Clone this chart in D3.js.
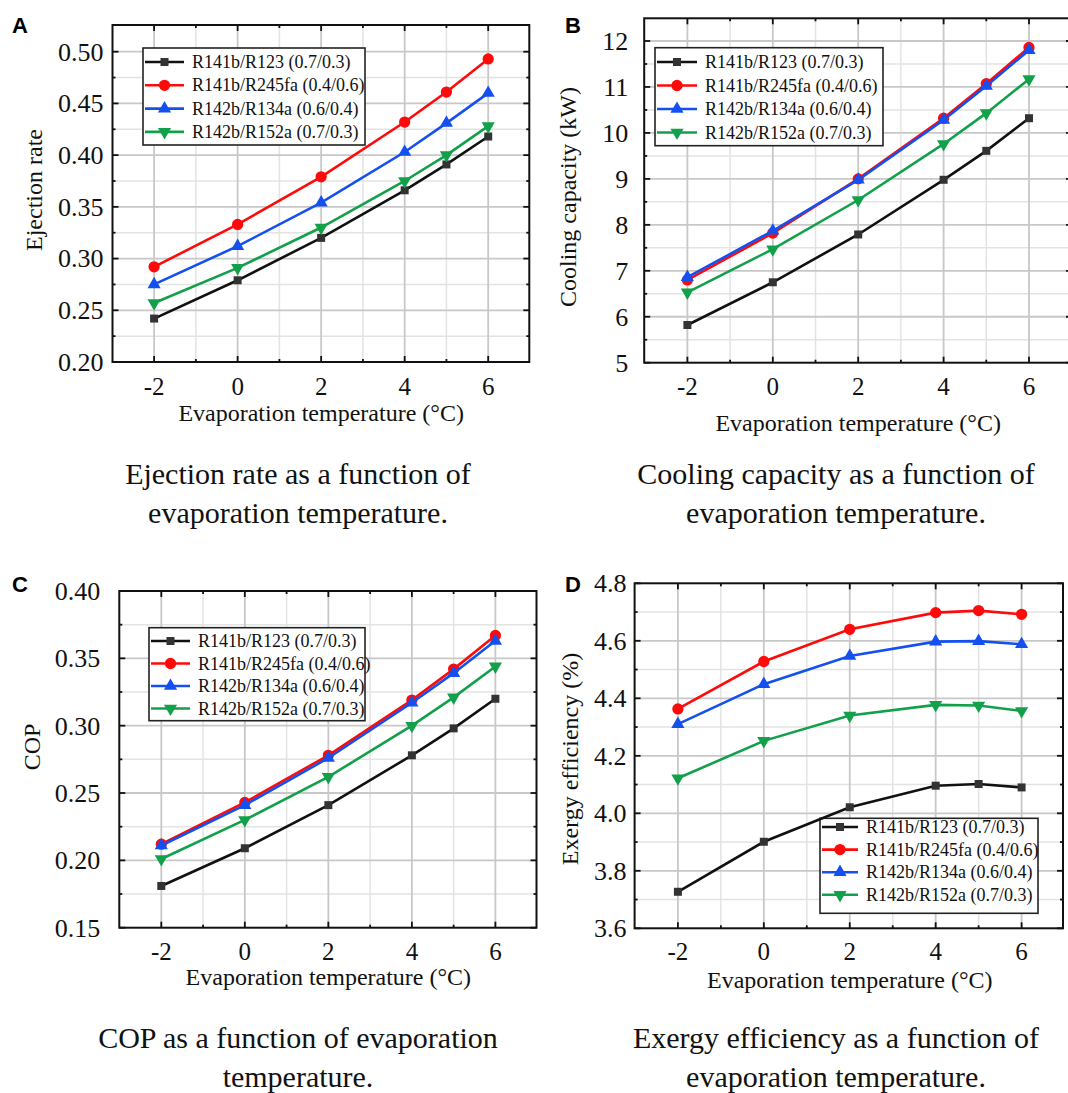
<!DOCTYPE html>
<html>
<head>
<meta charset="utf-8">
<script src="https://cdn.jsdelivr.net/npm/d3@7"></script>
<style>
  body { margin: 0; background: #fff; }
  svg { display: block; }
  .serif { font-family: "Liberation Serif", "Times New Roman", serif; fill: #111; }
</style>
</head>
<body>
<svg width="1068" height="1093"></svg>
<script>
// evaporation temperature (°C)
var temps = [-2, 0, 2, 4, 5, 6];
var seriesNames = ["R141b/R123 (0.7/0.3)", "R141b/R245fa (0.4/0.6)", "R142b/R134a (0.6/0.4)", "R142b/R152a (0.7/0.3)"];
var seriesColors = ["#111111", "#ff0a0a", "#1450f0", "#12a04a"];

// A - ejection rate
var ejR123   = [0.242, 0.279, 0.320, 0.366, 0.391, 0.418];
var ejR245fa = [0.292, 0.333, 0.379, 0.432, 0.461, 0.493];
var ejR134a  = [0.275, 0.312, 0.354, 0.403, 0.431, 0.460];
var ejR152a  = [0.257, 0.291, 0.330, 0.375, 0.400, 0.428];

// B - cooling capacity (kW)
var coR123   = [5.82, 6.75, 7.79, 8.98, 9.61, 10.32];
var coR245fa = [6.80, 7.82, 9.00, 10.32, 11.07, 11.86];
var coR134a  = [6.86, 7.87, 8.98, 10.28, 11.02, 11.80];
var coR152a  = [6.53, 7.47, 8.54, 9.76, 10.43, 11.17];

// C - COP
var copR123   = [0.181, 0.209, 0.241, 0.278, 0.298, 0.320];
var copR245fa = [0.212, 0.243, 0.278, 0.319, 0.342, 0.367];
var copR134a  = [0.211, 0.241, 0.276, 0.317, 0.339, 0.363];
var copR152a  = [0.201, 0.230, 0.262, 0.300, 0.321, 0.344];

// D - exergy efficiency (%)
var exR123   = [3.727, 3.901, 4.021, 4.096, 4.102, 4.090];
var exR245fa = [4.363, 4.528, 4.640, 4.698, 4.705, 4.692];
var exR134a  = [4.310, 4.449, 4.547, 4.597, 4.599, 4.588];
var exR152a  = [4.122, 4.252, 4.340, 4.377, 4.375, 4.356];

// tick labels
var xTicks = [-2, 0, 2, 4, 6];
var ejTicks = [0.20, 0.25, 0.30, 0.35, 0.40, 0.45, 0.50];
var coTicks = [5, 6, 7, 8, 9, 10, 11, 12];
var copTicks = [0.15, 0.20, 0.25, 0.30, 0.35, 0.40];
var exTicks = [3.6, 3.8, 4.0, 4.2, 4.4, 4.6, 4.8];

var svg = d3.select("svg");
svg.append("rect").attr("width", 1068).attr("height", 1093).attr("fill", "#fff");

var panels = [
  {letter: "A", lx: 12, ly: 33,
   xr: [154.1, 488.2], fx: [112.5, 529.3], yr: [362, 51.7], fy: [25, 362],
   ticks: ejTicks, fmt: d3.format(".2f"),
   series: [ejR123, ejR245fa, ejR134a, ejR152a],
   yTitle: "Ejection rate", ytx: 34, yty: 190, gap: 9, xly: 395, xty: 421,
   leg: {x: 143, y: 48, w: 222, h: 97, r0: 62, dy: 23.3, tx: 192},
   cap: ["Ejection rate as a function of", "evaporation temperature."], cx: 298, cy: 484},
  {letter: "B", lx: 565, ly: 33,
   xr: [687.4, 1029], fx: [644.2, 1072], yr: [362.7, 41], fy: [18.3, 362.7],
   ticks: coTicks, fmt: d3.format("d"),
   series: [coR123, coR245fa, coR134a, coR152a],
   yTitle: "Cooling capacity (kW)", ytx: 568, yty: 197, gap: 16, xly: 395, xty: 431,
   leg: {x: 655, y: 47.7, w: 228, h: 98, r0: 62, dy: 23.5, tx: 705},
   cap: ["Cooling capacity as a function of", "evaporation temperature."], cx: 836, cy: 484},
  {letter: "C", lx: 12, ly: 592,
   xr: [161.3, 495.4], fx: [119.3, 536.5], yr: [927.7, 591], fy: [591, 927.7],
   ticks: copTicks, fmt: d3.format(".2f"),
   series: [copR123, copR245fa, copR134a, copR152a],
   yTitle: "COP", ytx: 32, yty: 747, gap: 19, xly: 960, xty: 985,
   leg: {x: 149, y: 627.7, w: 216, h: 93, r0: 641, dy: 22.5, tx: 198},
   cap: ["COP as a function of evaporation", "temperature."], cx: 298, cy: 1048},
  {letter: "D", lx: 565, ly: 592,
   xr: [677.9, 1021.6], fx: [634.6, 1063], yr: [928.3, 583.3], fy: [583.3, 928.3],
   ticks: exTicks, fmt: d3.format(".1f"),
   series: [exR123, exR245fa, exR134a, exR152a],
   yTitle: "Exergy efficiency (%)", ytx: 570, yty: 759, gap: 8, xly: 960, xty: 988,
   leg: {x: 820, y: 818.3, w: 218, h: 95, r0: 827, dy: 22.6, tx: 866},
   cap: ["Exergy efficiency as a function of", "evaporation temperature."], cx: 836, cy: 1048}
];

var symbols = [
  d3.symbol().type(d3.symbolSquare).size(64),
  d3.symbol().type(d3.symbolCircle).size(100),
  d3.symbol().type(d3.symbolTriangle).size(75),
  d3.symbol().type(d3.symbolTriangle).size(75)
];
var rot = [0, 0, 0, 180];
var markFill = ["#333333", "#ff0a0a", "#1450f0", "#12a04a"];

function drawPanel(p) {
  var g = svg.append("g");
  var x = d3.scaleLinear().domain([-2, 6]).range(p.xr);
  var y = d3.scaleLinear().domain([p.ticks[0], p.ticks[p.ticks.length - 1]]).range(p.yr);
  var xMin = x.invert(p.fx[0]), xMax = x.invert(p.fx[1]);
  var step = p.ticks[1] - p.ticks[0];

  // minor / major y values
  var yMinor = [];
  for (var i = 0; i < p.ticks.length - 1; i++) yMinor.push(p.ticks[i] + step / 2);
  var xAll = d3.range(-3, 8);
  var xMinor = xAll.filter(function (d) { return xTicks.indexOf(d) < 0 && d > xMin + 0.05 && d < xMax - 0.05; });

  // grid
  var grid = g.append("g");
  grid.selectAll(".gxm").data(xMinor)
    .enter().append("line")
    .attr("x1", x).attr("x2", x).attr("y1", p.fy[0]).attr("y2", p.fy[1])
    .attr("stroke", "#e3e3e3").attr("stroke-width", 1.5);
  grid.selectAll(".gym").data(yMinor)
    .enter().append("line")
    .attr("y1", y).attr("y2", y).attr("x1", p.fx[0]).attr("x2", p.fx[1])
    .attr("stroke", "#e3e3e3").attr("stroke-width", 1.5);
  grid.selectAll(".gx").data(xTicks)
    .enter().append("line")
    .attr("x1", x).attr("x2", x).attr("y1", p.fy[0]).attr("y2", p.fy[1])
    .attr("stroke", "#c8c8c8").attr("stroke-width", 1.8);
  grid.selectAll(".gy").data(p.ticks.filter(function (d) { return y(d) > p.fy[0] + 2 && y(d) < p.fy[1] - 2; }))
    .enter().append("line")
    .attr("y1", y).attr("y2", y).attr("x1", p.fx[0]).attr("x2", p.fx[1])
    .attr("stroke", "#c8c8c8").attr("stroke-width", 1.8);

  // inward ticks on all four sides
  var tk = g.append("g").attr("stroke", "#111").attr("stroke-width", 1.8);
  xTicks.forEach(function (d) {
    tk.append("line").attr("x1", x(d)).attr("x2", x(d)).attr("y1", p.fy[1]).attr("y2", p.fy[1] - 6);
    tk.append("line").attr("x1", x(d)).attr("x2", x(d)).attr("y1", p.fy[0]).attr("y2", p.fy[0] + 6);
  });
  xMinor.forEach(function (d) {
    tk.append("line").attr("x1", x(d)).attr("x2", x(d)).attr("y1", p.fy[1]).attr("y2", p.fy[1] - 3);
    tk.append("line").attr("x1", x(d)).attr("x2", x(d)).attr("y1", p.fy[0]).attr("y2", p.fy[0] + 3);
  });
  p.ticks.forEach(function (d) {
    tk.append("line").attr("y1", y(d)).attr("y2", y(d)).attr("x1", p.fx[0]).attr("x2", p.fx[0] + 6);
    tk.append("line").attr("y1", y(d)).attr("y2", y(d)).attr("x1", p.fx[1]).attr("x2", p.fx[1] - 6);
  });
  yMinor.forEach(function (d) {
    tk.append("line").attr("y1", y(d)).attr("y2", y(d)).attr("x1", p.fx[0]).attr("x2", p.fx[0] + 3);
    tk.append("line").attr("y1", y(d)).attr("y2", y(d)).attr("x1", p.fx[1]).attr("x2", p.fx[1] - 3);
  });

  // frame
  g.append("rect")
    .attr("x", p.fx[0]).attr("y", p.fy[0])
    .attr("width", p.fx[1] - p.fx[0]).attr("height", p.fy[1] - p.fy[0])
    .attr("fill", "none").attr("stroke", "#111").attr("stroke-width", 2);

  // tick labels
  g.selectAll(".yl").data(p.ticks).enter().append("text")
    .attr("class", "serif")
    .attr("x", p.fx[0] - p.gap).attr("y", function (d) { return y(d); })
    .attr("dy", "0.34em").attr("text-anchor", "end")
    .style("font-size", "26px")
    .text(p.fmt);
  g.selectAll(".xl").data(xTicks).enter().append("text")
    .attr("class", "serif")
    .attr("x", function (d) { return x(d); }).attr("y", p.xly)
    .attr("text-anchor", "middle")
    .style("font-size", "25px")
    .text(function (d) { return d; });

  // axis titles
  g.append("text").attr("class", "serif")
    .attr("x", (p.xr[0] + p.xr[1]) / 2).attr("y", p.xty)
    .attr("text-anchor", "middle").style("font-size", "24px")
    .text("Evaporation temperature (\u00b0C)");
  g.append("text").attr("class", "serif")
    .attr("transform", "translate(" + p.ytx + "," + p.yty + ") rotate(-90)")
    .attr("dy", "0.34em")
    .attr("text-anchor", "middle").style("font-size", "24px")
    .text(p.yTitle);

  // legend box (drawn under the series so lines pass over it)
  var lg = p.leg;
  g.append("rect").attr("x", lg.x).attr("y", lg.y).attr("width", lg.w).attr("height", lg.h)
    .attr("fill", "#fff").attr("stroke", "#222").attr("stroke-width", 1.6);

  // series
  var line = d3.line().x(function (d, i) { return x(temps[i]); }).y(function (d) { return y(d); });
  p.series.forEach(function (vals, s) {
    g.append("path").datum(vals)
      .attr("d", line).attr("fill", "none")
      .attr("stroke", seriesColors[s]).attr("stroke-width", 2.6);
    g.selectAll(".m" + s).data(vals).enter().append("path")
      .attr("d", symbols[s])
      .attr("transform", function (d, i) {
        return "translate(" + x(temps[i]) + "," + y(d) + ") rotate(" + rot[s] + ")";
      })
      .attr("fill", markFill[s]);
  });

  // legend entries
  seriesNames.forEach(function (name, s) {
    var ry = lg.r0 + s * lg.dy;
    var x0 = lg.x + 2, x1 = lg.tx - 8;
    g.append("line").attr("x1", x0).attr("x2", x1).attr("y1", ry).attr("y2", ry)
      .attr("stroke", seriesColors[s]).attr("stroke-width", 2.6);
    g.append("path").attr("d", symbols[s])
      .attr("transform", "translate(" + (x0 + x1) / 2 + "," + ry + ") rotate(" + rot[s] + ")")
      .attr("fill", markFill[s]);
    g.append("text").attr("class", "serif")
      .attr("x", lg.tx).attr("y", ry).attr("dy", "0.34em")
      .style("font-size", "18px")
      .text(name);
  });

  // panel letter
  svg.append("text").attr("x", p.lx).attr("y", p.ly)
    .style("font-family", "'Liberation Sans', Arial, sans-serif")
    .style("font-weight", "bold").style("font-size", "22px")
    .text(p.letter);

  // caption
  p.cap.forEach(function (t, i) {
    svg.append("text").attr("class", "serif")
      .attr("x", p.cx).attr("y", p.cy + i * 39)
      .attr("text-anchor", "middle").style("font-size", "30px")
      .text(t);
  });
}

panels.forEach(drawPanel);
</script>
</body>
</html>
